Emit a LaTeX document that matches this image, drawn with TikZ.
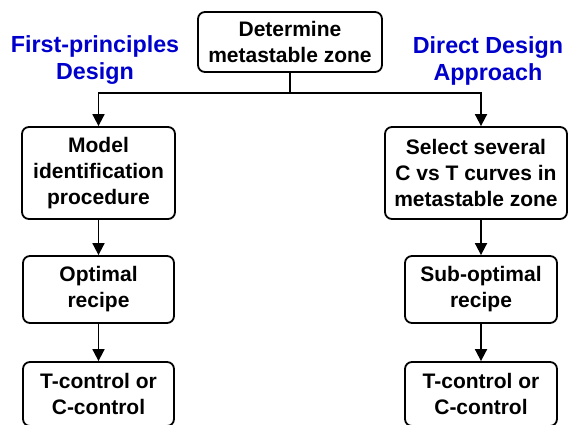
\documentclass[tikz,border=0pt]{standalone}
\usepackage{fontspec}
\setmainfont{Liberation Sans}
\usetikzlibrary{arrows.meta}
\definecolor{lblblue}{RGB}{0,0,204}
\begin{document}
\begin{tikzpicture}[x=1pt,y=-1pt,
  box/.style={draw=black,line width=1.8pt,rounded corners=7pt,align=center,
    inner sep=0pt,font=\fontsize{21}{26}\selectfont\bfseries},
  lbl/.style={align=center,text=lblblue,font=\fontsize{23.3}{27}\selectfont\bfseries},
  arr/.style={line width=1.8pt,-{Triangle[length=12pt,width=12pt]}},
  ln/.style={line width=1.8pt}]
\useasboundingbox (0,0) rectangle (568,425);
\clip (0,0) rectangle (568,425);
\node[box,minimum width=184pt,minimum height=60pt] (top) at (290,42) {Determine\\metastable zone};
\node[box,minimum width=153pt,minimum height=92pt] (L1) at (98.5,173) {Model\\identification\\procedure};
\node[box,minimum width=182pt,minimum height=92pt] (R1) at (476,173) {Select several\\C vs T curves in\\metastable zone};
\node[box,minimum width=151pt,minimum height=67pt] (L2) at (98.5,289.5) {Optimal\\recipe};
\node[box,minimum width=152pt,minimum height=67pt] (R2) at (481,289.5) {Sub-optimal\\recipe};
\node[box,minimum width=151pt,minimum height=64pt] (L3) at (98.5,394) {T-control or\\C-control};
\node[box,minimum width=152pt,minimum height=64pt] (R3) at (481,394) {T-control or\\C-control};
\node[lbl] (lblL) at (95,60.5) {First-principles\\Design};
\node[lbl] (lblR) at (488,60.5) {Direct Design\\Approach};
\coordinate (J) at (290,93);
\draw[ln] (top.south) -- (J);
\draw[arr] (J) -| (L1.north);
\draw[arr] (J) -| (R2.north |- R1.north);
\draw[arr] (L1.south) -- (L2.north);
\draw[arr] (R1.south -| R2.north) -- (R2.north);
\draw[arr] (L2.south) -- (L3.north);
\draw[arr] (R2.south) -- (R3.north);
\end{tikzpicture}
\end{document}
